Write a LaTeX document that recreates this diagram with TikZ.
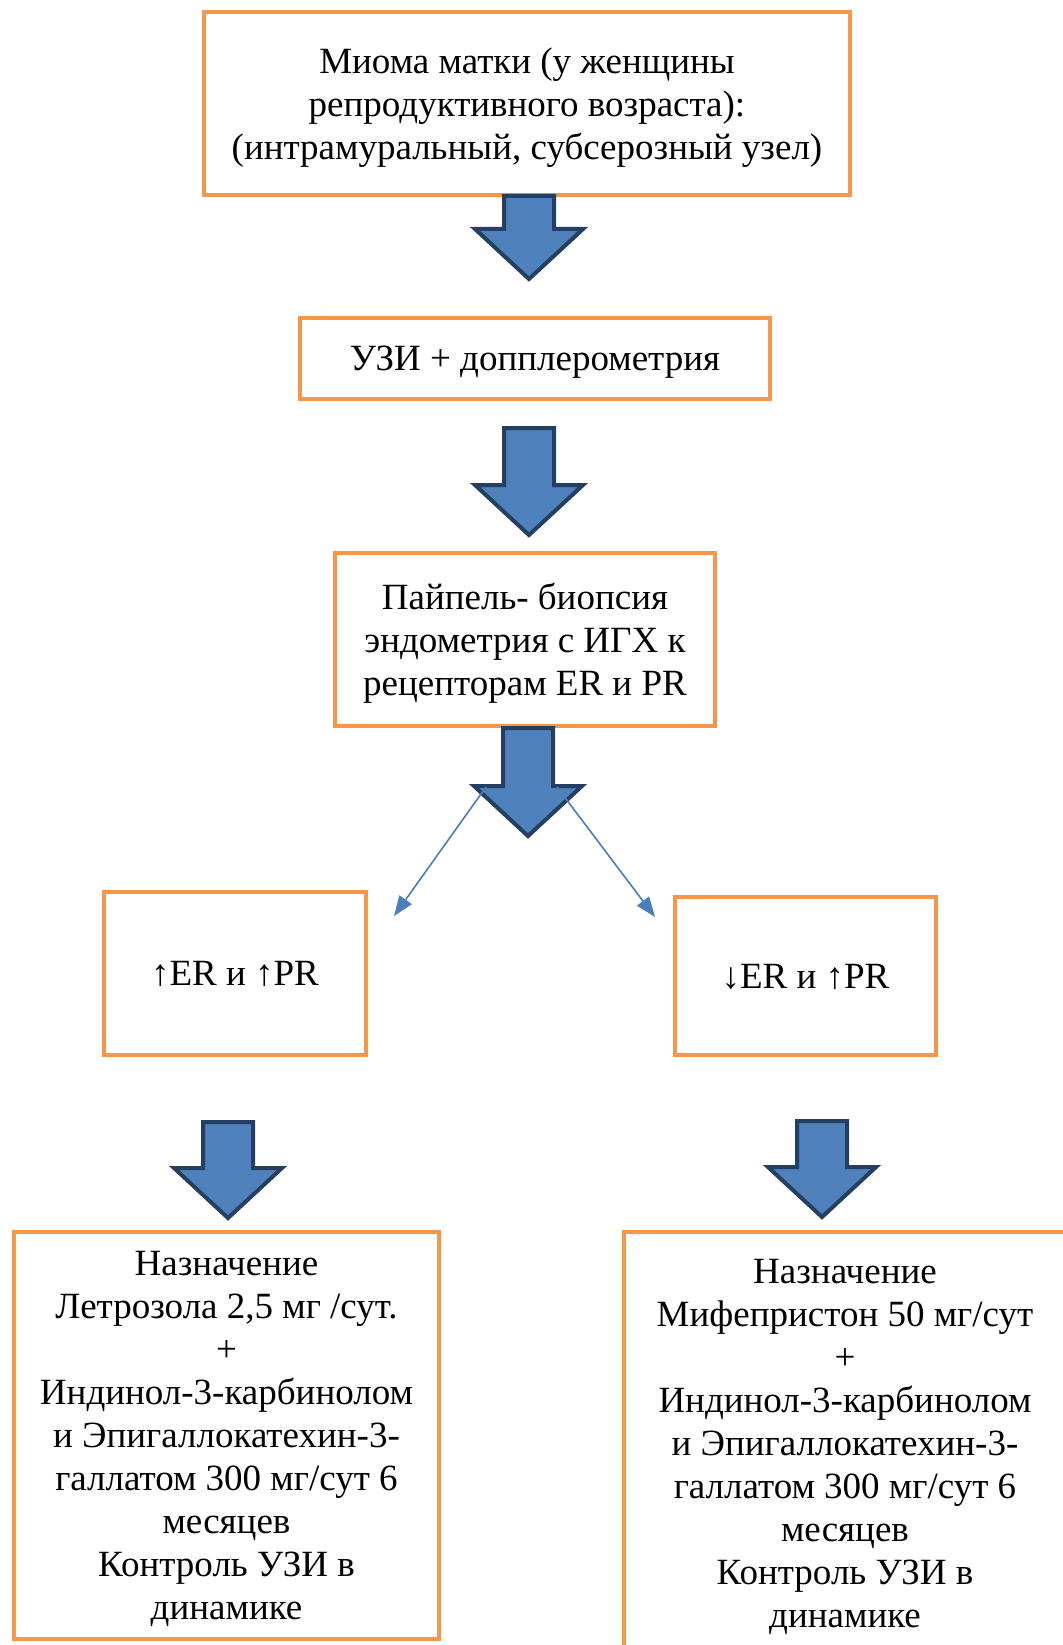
\documentclass[tikz,border=0pt]{standalone}
\usepackage{fontspec}
\usepackage{tikz}
\usepackage{xcolor}
\setmainfont{Liberation Serif}
\usetikzlibrary{arrows.meta,calc}
\definecolor{boxorange}{HTML}{F79646}
\definecolor{arrfill}{HTML}{4F81BD}
\definecolor{arrline}{HTML}{243F60}
\definecolor{thinblue}{HTML}{4A7EBB}
\newcommand{\bigarrow}[2]{%
\draw[bigarr] let \p1=(#1), \p2=(#2) in (\x1-25pt,\y1) -- (\x1+25pt,\y1) -- (\x1+25pt,\y2+50pt) -- (\x1+54pt,\y2+50pt) -- (\x1,\y2) -- (\x1-54pt,\y2+50pt) -- (\x1-25pt,\y2+50pt) -- cycle;}

\begin{document}
\begin{tikzpicture}[x=1pt,y=-1pt,
  obox/.style={draw=boxorange,line width=4pt,fill=white,align=center,inner sep=0pt,text depth=0pt,font=\fontsize{37}{43}\selectfont},
  bigarr/.style={fill=arrfill,draw=arrline,line width=4pt,line join=miter},
  thinarr/.style={draw=thinblue,line width=1.6pt,-{Triangle[length=20pt,width=15pt]}}]
\useasboundingbox (0,0) rectangle (1062,1645);
\node[obox,minimum width=646pt,minimum height=183pt] (miom) at (527,103.5) {Миома матки (у женщины\\репродуктивного возраста):\\(интрамуральный, субсерозный узел)};
\node[obox,minimum width=470pt,minimum height=81pt] (uzi) at (535,358.5) {УЗИ + допплерометрия};
\node[obox,minimum width=380pt,minimum height=173pt] (biop) at (525,639.5) {Пайпель- биопсия\\эндометрия с ИГХ к\\рецепторам ER и PR};
\node[obox,minimum width=262pt,minimum height=163pt] (erup) at (235,973.5) {↑ER и ↑PR};
\node[obox,minimum width=261pt,minimum height=158pt] (erdown) at (805.5,976) {↓ER и ↑PR};
\node[obox,minimum width=425pt,minimum height=407pt] (letr) at (226.5,1435.5) {Назначение\\ Летрозола 2,5 мг /сут.\\+\\Индинол-3-карбинолом\\и Эпигаллокатехин-3-\\галлатом 300 мг/сут 6\\месяцев\\Контроль УЗИ в\\динамике};
\node[obox,minimum width=442pt,minimum height=422pt] (mife) at (845,1443) {Назначение\\Мифепристон 50 мг/сут\\+\\Индинол-3-карбинолом\\и Эпигаллокатехин-3-\\галлатом 300 мг/сут 6\\месяцев\\Контроль УЗИ в\\динамике};
% block arrows
\coordinate (a1s) at (529,196); \coordinate (a1e) at (529,279);
\coordinate (a2s) at (529,428); \coordinate (a2e) at (529,535);
\coordinate (a3s) at (528,728); \coordinate (a3e) at (528,836);
\coordinate (a4s) at (228,1122); \coordinate (a4e) at (228,1218);
\coordinate (a5s) at (822,1121); \coordinate (a5e) at (822,1217);
\bigarrow{a1s}{a1e}
\bigarrow{a2s}{a2e}
\bigarrow{a3s}{a3e}
\bigarrow{a4s}{a4e}
\bigarrow{a5s}{a5e}
% thin arrows
\coordinate (ls) at (486,787); \coordinate (le) at (394,916);
\coordinate (rs) at (557,787); \coordinate (re) at (655,917);
\draw[thinarr] (ls) -- (le);
\draw[thinarr] (rs) -- (re);
\end{tikzpicture}
\end{document}
